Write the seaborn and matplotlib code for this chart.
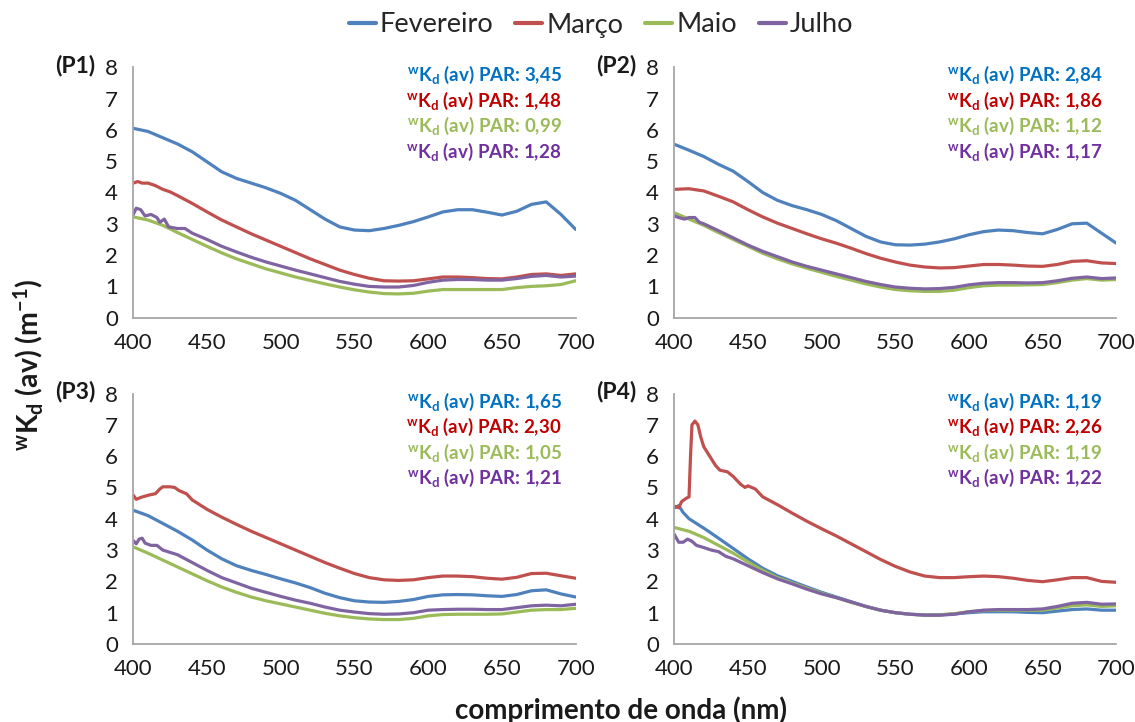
import matplotlib
matplotlib.use("Agg")
import matplotlib.pyplot as plt
import matplotlib.transforms as mtransforms
import seaborn as sns
import pandas as pd

# ---------------- data ----------------
WL = list(range(400, 701, 10))
months = ["Fevereiro", "Março", "Maio", "Julho"]
line_colors = ["#4F81BD", "#C0504D", "#9BBB59", "#8064A2"]
text_colors = ["#0070C0", "#C00000", "#9BBB59", "#7030A0"]
panels = ["(P1)", "(P2)", "(P3)", "(P4)"]

# P1
p1_fev = [6.05, 5.95, 5.75, 5.55, 5.30, 4.98, 4.66, 4.45, 4.30, 4.15, 3.97, 3.75, 3.45, 3.15, 2.90, 2.80,
          2.78, 2.85, 2.95, 3.07, 3.22, 3.38, 3.45, 3.45, 3.37, 3.28, 3.40, 3.62, 3.70, 3.30, 2.82]
p1_mar_wl = [400, 403, 406, 410, 415, 420, 425, 430] + WL[4:]
p1_mar = [4.30, 4.35, 4.30, 4.30, 4.22, 4.10, 4.02, 3.90,
          3.65, 3.38, 3.12, 2.90, 2.68, 2.48, 2.28, 2.08, 1.88, 1.70, 1.52, 1.38, 1.26, 1.18, 1.17, 1.18,
          1.24, 1.30, 1.30, 1.28, 1.25, 1.24, 1.30, 1.38, 1.40, 1.35, 1.40]
p1_mai = [3.22, 3.12, 2.95, 2.72, 2.50, 2.28, 2.07, 1.88, 1.72, 1.56, 1.43, 1.30, 1.19, 1.08, 0.98, 0.89,
          0.82, 0.77, 0.76, 0.78, 0.85, 0.90, 0.90, 0.90, 0.90, 0.90, 0.96, 1.00, 1.02, 1.06, 1.18]
p1_jul_wl = [400, 402, 405, 408, 412, 416, 418, 421, 424, 430, 435] + WL[4:]
p1_jul = [3.30, 3.50, 3.45, 3.25, 3.30, 3.20, 3.05, 3.15, 2.90, 2.85, 2.85,
          2.70, 2.50, 2.28, 2.10, 1.93, 1.78, 1.65, 1.52, 1.40, 1.28, 1.16, 1.07, 1.00, 0.98, 0.98, 1.03,
          1.13, 1.20, 1.22, 1.22, 1.20, 1.20, 1.25, 1.32, 1.35, 1.30, 1.33]

# P2
p2_fev = [5.54, 5.35, 5.15, 4.90, 4.68, 4.35, 4.00, 3.75, 3.58, 3.45, 3.30, 3.10, 2.85, 2.60, 2.42, 2.33,
          2.32, 2.35, 2.42, 2.52, 2.65, 2.75, 2.80, 2.78, 2.72, 2.68, 2.82, 3.00, 3.02, 2.70, 2.38]
p2_mar = [4.10, 4.12, 4.05, 3.88, 3.70, 3.45, 3.22, 3.02, 2.85, 2.68, 2.52, 2.38, 2.22, 2.05, 1.90, 1.78,
          1.68, 1.62, 1.59, 1.60, 1.65, 1.70, 1.70, 1.68, 1.65, 1.64, 1.70, 1.80, 1.82, 1.75, 1.73]
p2_mai = [3.35, 3.15, 2.95, 2.72, 2.50, 2.28, 2.06, 1.88, 1.72, 1.58, 1.45, 1.32, 1.20, 1.08, 0.98, 0.90,
          0.86, 0.84, 0.84, 0.88, 0.96, 1.02, 1.04, 1.04, 1.05, 1.06, 1.12, 1.20, 1.25, 1.20, 1.22]
p2_jul_wl = [400, 403, 407, 410, 414, 417, 420, 430] + WL[4:]
p2_jul = [3.25, 3.20, 3.15, 3.20, 3.20, 3.05, 3.00, 2.78,
          2.55, 2.32, 2.12, 1.95, 1.78, 1.64, 1.52, 1.40, 1.28, 1.16, 1.06, 0.98, 0.94, 0.92, 0.93, 0.97,
          1.05, 1.10, 1.12, 1.12, 1.11, 1.12, 1.18, 1.26, 1.30, 1.25, 1.27]

# P3
p3_fev = [4.27, 4.10, 3.85, 3.60, 3.32, 3.00, 2.72, 2.50, 2.35, 2.22, 2.08, 1.95, 1.80, 1.62, 1.48, 1.38,
          1.34, 1.33, 1.36, 1.42, 1.52, 1.57, 1.58, 1.57, 1.54, 1.52, 1.58, 1.70, 1.73, 1.60, 1.50]
p3_mar_wl = [400, 402, 405, 410, 415, 418, 420, 425, 428, 431, 436] + WL[4:]
p3_mar = [4.75, 4.62, 4.68, 4.75, 4.80, 4.95, 5.02, 5.02, 5.00, 4.90, 4.80,
          4.60, 4.30, 4.05, 3.82, 3.60, 3.40, 3.20, 3.00, 2.80, 2.60, 2.42, 2.25, 2.12, 2.05, 2.03, 2.05,
          2.12, 2.17, 2.17, 2.15, 2.10, 2.07, 2.13, 2.25, 2.26, 2.18, 2.10]
p3_mai = [3.10, 2.90, 2.68, 2.46, 2.24, 2.02, 1.82, 1.65, 1.50, 1.38, 1.28, 1.18, 1.08, 0.98, 0.90, 0.84,
          0.80, 0.78, 0.78, 0.82, 0.90, 0.94, 0.95, 0.95, 0.95, 0.96, 1.02, 1.08, 1.10, 1.10, 1.14]
p3_jul_wl = [400, 402, 404, 406, 408, 412, 416, 420, 430] + WL[4:]
p3_jul = [3.30, 3.20, 3.35, 3.38, 3.22, 3.15, 3.15, 3.00, 2.85,
          2.60, 2.35, 2.12, 1.95, 1.78, 1.65, 1.52, 1.40, 1.30, 1.18, 1.08, 1.02, 0.97, 0.95, 0.96, 1.00,
          1.08, 1.10, 1.11, 1.11, 1.10, 1.10, 1.16, 1.22, 1.24, 1.22, 1.27]

# P4
p4_fev_wl = [400, 403, 406, 410, 420, 430] + WL[4:]
p4_fev = [4.35, 4.42, 4.20, 4.00, 3.70, 3.38,
          3.05, 2.72, 2.42, 2.18, 2.00, 1.82, 1.65, 1.50, 1.35, 1.20, 1.08, 1.00, 0.95, 0.93, 0.93, 0.96,
          1.00, 1.03, 1.03, 1.03, 1.01, 1.00, 1.05, 1.10, 1.12, 1.08, 1.08]
p4_mar_wl = [400, 403, 405, 408, 410, 411, 412, 414, 416, 418, 420, 424, 428, 431, 436, 440, 445, 448,
             450, 455, 460] + WL[7:]
p4_mar = [4.40, 4.35, 4.55, 4.65, 4.70, 6.00, 7.00, 7.12, 7.00, 6.60, 6.30, 6.00, 5.70, 5.55, 5.50, 5.35,
          5.10, 5.00, 5.05, 4.95, 4.70,
          4.45, 4.18, 3.92, 3.68, 3.45, 3.20, 2.95, 2.70, 2.48, 2.30, 2.17, 2.12, 2.12, 2.15, 2.17, 2.15,
          2.10, 2.03, 1.99, 2.05, 2.12, 2.12, 2.00, 1.97]
p4_mai = [3.72, 3.60, 3.40, 3.15, 2.90, 2.62, 2.35, 2.12, 1.95, 1.78, 1.62, 1.48, 1.33, 1.20, 1.08, 1.00,
          0.95, 0.92, 0.93, 0.97, 1.03, 1.07, 1.08, 1.08, 1.08, 1.08, 1.15, 1.22, 1.25, 1.20, 1.22]
p4_jul_wl = [400, 403, 406, 409, 412, 415, 420, 425, 430, 435] + WL[4:]
p4_jul = [3.50, 3.25, 3.25, 3.35, 3.28, 3.15, 3.08, 3.00, 2.95, 2.80,
          2.72, 2.50, 2.28, 2.08, 1.92, 1.75, 1.60, 1.48, 1.34, 1.20, 1.08, 1.00, 0.95, 0.92, 0.92, 0.95,
          1.03, 1.08, 1.10, 1.10, 1.10, 1.12, 1.20, 1.30, 1.33, 1.27, 1.28]

par_p1 = ["3,45", "1,48", "0,99", "1,28"]
par_p2 = ["2,84", "1,86", "1,12", "1,17"]
par_p3 = ["1,65", "2,30", "1,05", "1,21"]
par_p4 = ["1,19", "2,26", "1,19", "1,22"]

x_ticks = [400, 450, 500, 550, 600, 650, 700]
y_ticks = [0, 1, 2, 3, 4, 5, 6, 7, 8]

# ---------------- build long table ----------------
series = {
    "(P1)": [(WL, p1_fev), (p1_mar_wl, p1_mar), (WL, p1_mai), (p1_jul_wl, p1_jul)],
    "(P2)": [(WL, p2_fev), (WL, p2_mar), (WL, p2_mai), (p2_jul_wl, p2_jul)],
    "(P3)": [(WL, p3_fev), (p3_mar_wl, p3_mar), (WL, p3_mai), (p3_jul_wl, p3_jul)],
    "(P4)": [(p4_fev_wl, p4_fev), (p4_mar_wl, p4_mar), (WL, p4_mai), (p4_jul_wl, p4_jul)],
}
pars = {"(P1)": par_p1, "(P2)": par_p2, "(P3)": par_p3, "(P4)": par_p4}
rows = []
for p in panels:
    for m, (wl, vals) in zip(months, series[p]):
        for w, v in zip(wl, vals):
            rows.append({"panel": p, "mes": m, "wl": w, "kd": v})
df = pd.DataFrame(rows)

# ---------------- style ----------------
sns.set_theme(style="white")
plt.rcParams["font.family"] = ["Lato", "DejaVu Sans"]
plt.rcParams["mathtext.fontset"] = "custom"
plt.rcParams["mathtext.rm"] = "Lato"
plt.rcParams["mathtext.bf"] = "Lato:bold"
plt.rcParams["mathtext.it"] = "Lato:italic"
plt.rcParams["mathtext.sf"] = "Lato"

W, H = 1135, 722
fig = plt.figure(figsize=(W / 100, H / 100), dpi=100)
palette = dict(zip(months, line_colors))

rects_px = {
    "(P1)": (133.3, 67.3, 575.7, 317.7),
    "(P2)": (674.3, 67.3, 1116.3, 317.7),
    "(P3)": (133.3, 393.5, 575.7, 644.0),
    "(P4)": (674.3, 393.5, 1116.3, 644.0),
}
spine_c = "#A6A6A6"
handles = labels = None
for p in panels:
    x0, y0, x1, y1 = rects_px[p]
    ax = fig.add_axes([x0 / W, 1 - y1 / H, (x1 - x0) / W, (y1 - y0) / H])
    sub = df[df["panel"] == p]
    sns.lineplot(data=sub, x="wl", y="kd", hue="mes", hue_order=months, palette=palette,
                 estimator=None, sort=True, linewidth=2.3, ax=ax, legend=(p == "(P1)"))
    if p == "(P1)":
        handles, labels = ax.get_legend_handles_labels()
        ax.get_legend().remove()
    ax.set_xlim(400, 700)
    ax.set_ylim(0, 8)
    ax.set_xticks(x_ticks)
    ax.set_yticks(y_ticks)
    ax.set_xlabel("")
    ax.set_ylabel("")
    for s in ["top", "right"]:
        ax.spines[s].set_visible(False)
    for s in ["left", "bottom"]:
        ax.spines[s].set_color(spine_c)
        ax.spines[s].set_linewidth(1.3)
    ax.tick_params(axis="both", direction="out", length=5, width=1.3, color=spine_c,
                   labelsize=16, labelcolor="#1a1a1a", pad=6)
    # annotations
    for i, (par, tc) in enumerate(zip(pars[p], text_colors)):
        trans = mtransforms.offset_copy(ax.transAxes, fig=fig, x=-14, y=-(8 + 25.5 * i), units="dots")
        ax.text(1.0, 1.0, r"$\mathbf{{}^{w}K_{d}}$" + " (av) PAR: " + par, transform=trans,
                ha="right", va="center", color=tc, fontsize=13.5, fontweight="bold")
    # panel label
    trans = mtransforms.offset_copy(ax.transAxes, fig=fig, x=-38, y=2, units="dots")
    ax.text(0.0, 1.0, p, transform=trans, ha="right", va="center", fontsize=16.5,
            fontweight="bold", color="#1a1a1a")

for h in handles:
    h.set_linewidth(3)
fig.legend(handles, labels, loc="center", bbox_to_anchor=(601 / W, 1 - 25 / H), ncol=4,
           frameon=False, fontsize=19.5, handlelength=1.0, handletextpad=0.15, columnspacing=0.8)

fig.text(28 / W, 1 - 365 / H, r"$\mathbf{{}^{w}K_{d}}$ (av) (m$\mathbf{^{-1}}$)", rotation=90,
         ha="center", va="center", fontsize=20.5, fontweight="bold", color="#1a1a1a")
fig.text(621 / W, 1 - 710 / H, "comprimento de onda (nm)", ha="center", va="center",
         fontsize=20, fontweight="bold", color="#1a1a1a")

fig.savefig("out.png", dpi=100)
